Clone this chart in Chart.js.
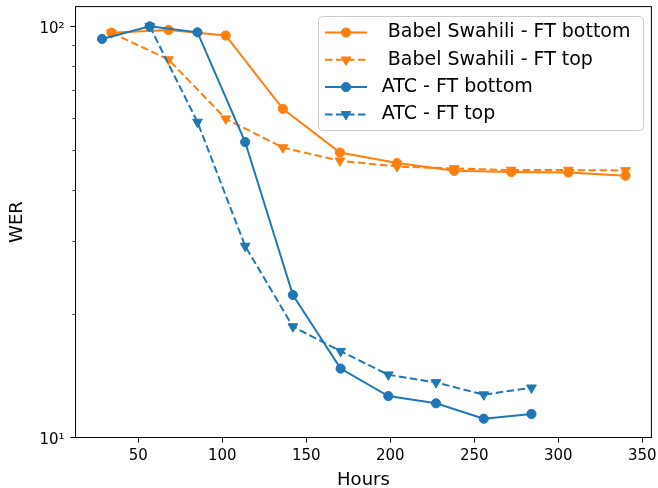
<!DOCTYPE html>
<html><head><meta charset="utf-8">
<script src="https://cdn.jsdelivr.net/npm/chart.js@4"></script>
<style>html,body{margin:0;padding:0;background:#fff;}canvas{display:block;}</style>
</head><body>
<canvas id="c" width="658" height="488"></canvas>
<script>
// ---- data ----
const hoursBabel = [34, 68, 102, 136, 170, 204, 238, 272, 306, 340];
const babelBottom = [96.5, 98, 95, 63, 49.3, 46.5, 44.5, 44.2, 44.1, 43.3];
const babelTop = [96.5, 83, 59.6, 50.7, 47.1, 45.6, 45.1, 44.7, 44.7, 44.6];
const hoursAtcBottom = [28.4, 56.8, 85.2, 113.6, 142, 170.4, 198.8, 227.2, 255.6, 284];
const atcBottom = [93.2, 100, 96.7, 52.3, 22.2, 14.7, 12.6, 12.1, 11.1, 11.4];
const hoursAtcTop = [56.8, 85.2, 113.6, 142, 170.4, 198.8, 227.2, 255.6, 284];
const atcTop = [100, 58.5, 29.2, 18.6, 16.2, 14.2, 13.6, 12.7, 13.2];
const seriesLabels = [' Babel Swahili - FT bottom', ' Babel Swahili - FT top', 'ATC - FT bottom', 'ATC - FT top'];
const xTicks = [50, 100, 150, 200, 250, 300, 350];
const yMajorTicks = [10, 100];
const yMinorTicks = [20, 30, 40, 50, 60, 70, 80, 90];
const yTickLabels = {10: '10\u00B9', 100: '10\u00B2'};
const xTitle = 'Hours';
const yTitle = 'WER';

const ORANGE = '#ff7f0e', BLUE = '#1f77b4';
const FONT = 'DejaVu Sans';
const DASH = [7.5, 3.5];
const CIRCLE_R = 4.6, TRI_R = 5.6;

function pts(xs, ys) { return xs.map((x, i) => ({x: x, y: ys[i]})); }

const styles = [
  {color: ORANGE, dash: [], marker: 'circle'},
  {color: ORANGE, dash: DASH, marker: 'triangle'},
  {color: BLUE, dash: [], marker: 'circle'},
  {color: BLUE, dash: DASH, marker: 'triangle'}
];
const seriesData = [
  pts(hoursBabel, babelBottom),
  pts(hoursBabel, babelTop),
  pts(hoursAtcBottom, atcBottom),
  pts(hoursAtcTop, atcTop)
];

const datasets = seriesData.map((d, i) => ({
  label: seriesLabels[i],
  data: d,
  borderColor: styles[i].color,
  backgroundColor: styles[i].color,
  borderWidth: 2,
  borderDash: styles[i].dash,
  pointStyle: styles[i].marker,
  pointRotation: styles[i].marker === 'triangle' ? 180 : 0,
  pointRadius: styles[i].marker === 'triangle' ? TRI_R : CIRCLE_R,
  pointBorderWidth: 1,
  pointBorderColor: styles[i].color,
  pointBackgroundColor: styles[i].color,
  tension: 0,
  fill: false,
  order: 4 - i
}));

function drawMarker(ctx, type, x, y, color) {
  ctx.save();
  ctx.setLineDash([]);
  ctx.fillStyle = color; ctx.strokeStyle = color; ctx.lineWidth = 1;
  ctx.beginPath();
  if (type === 'circle') {
    ctx.arc(x, y, CIRCLE_R, 0, Math.PI * 2);
  } else {
    const r = TRI_R;
    ctx.moveTo(x, y + r);
    ctx.lineTo(x - 0.866 * r, y - 0.5 * r);
    ctx.lineTo(x + 0.866 * r, y - 0.5 * r);
    ctx.closePath();
  }
  ctx.fill(); ctx.stroke();
  ctx.restore();
}

const decorPlugin = {
  id: 'decor',
  afterDraw(chart) {
    const {ctx, chartArea: a, scales} = chart;
    ctx.save();
    // minor y ticks
    ctx.strokeStyle = '#000'; ctx.lineWidth = 0.8;
    yMinorTicks.forEach(v => {
      const py = Math.round(scales.y.getPixelForValue(v)) + 0.5;
      ctx.beginPath(); ctx.moveTo(a.left - 3, py); ctx.lineTo(a.left, py); ctx.stroke();
    });
    // frame
    ctx.lineWidth = 1; ctx.strokeStyle = '#000';
    ctx.strokeRect(a.left, a.top, a.right - a.left, a.bottom - a.top);
    // legend
    const bx = 318.5, by = 16.5, bw = 325, bh = 114, rr = 4;
    ctx.beginPath();
    ctx.moveTo(bx + rr, by);
    ctx.arcTo(bx + bw, by, bx + bw, by + bh, rr);
    ctx.arcTo(bx + bw, by + bh, bx, by + bh, rr);
    ctx.arcTo(bx, by + bh, bx, by, rr);
    ctx.arcTo(bx, by, bx + bw, by, rr);
    ctx.closePath();
    ctx.fillStyle = 'rgba(255,255,255,0.8)';
    ctx.fill();
    ctx.strokeStyle = '#cccccc'; ctx.lineWidth = 1;
    ctx.stroke();
    ctx.font = '19px "' + FONT + '"';
    ctx.textBaseline = 'middle'; ctx.textAlign = 'left';
    seriesLabels.forEach((lab, i) => {
      const y = 32.5 + i * 27.3;
      const st = styles[i];
      ctx.strokeStyle = st.color; ctx.lineWidth = 2;
      ctx.setLineDash(st.dash);
      ctx.beginPath(); ctx.moveTo(325, y); ctx.lineTo(367, y); ctx.stroke();
      ctx.setLineDash([]);
      drawMarker(ctx, st.marker, 346, y, st.color);
      ctx.fillStyle = '#000';
      ctx.fillText(lab, 381.7, y);
    });
    ctx.restore();
  }
};

new Chart(document.getElementById('c'), {
  type: 'line',
  data: {datasets: datasets},
  plugins: [decorPlugin],
  options: {
    responsive: false,
    devicePixelRatio: 1,
    animation: false,
    layout: {padding: {left: 0, right: 4.5, top: 6.5, bottom: 0}},
    plugins: {legend: {display: false}, tooltip: {enabled: false}},
    scales: {
      x: {
        type: 'linear', min: 12.6, max: 355.4,
        afterBuildTicks: s => { s.ticks = xTicks.map(v => ({value: v})); },
        afterFit: s => { s.height = 50.5; s.paddingLeft = 0; s.paddingRight = 0; },
        grid: {drawOnChartArea: false, drawTicks: true, tickLength: 5, tickWidth: 1, tickColor: '#000'},
        border: {display: false},
        ticks: {color: '#000', font: {family: FONT, size: 15}, padding: 5, maxRotation: 0, autoSkip: false,
                callback: v => String(v)},
        title: {display: true, text: xTitle, color: '#000', font: {family: FONT, size: 18}, padding: {top: 0, bottom: -3}}
      },
      y: {
        type: 'logarithmic', min: 9.99, max: 111.7,
        afterBuildTicks: s => { s.ticks = yMajorTicks.map(v => ({value: v, major: true})); },
        afterFit: s => { s.width = 75.5; s.paddingTop = 0; s.paddingBottom = 0; },
        grid: {drawOnChartArea: false, drawTicks: true, tickLength: 5, tickWidth: 1, tickColor: '#000'},
        border: {display: false},
        ticks: {color: '#000', font: {family: FONT, size: 15}, padding: 6, labelOffset: 3, autoSkip: false,
                callback: v => (yTickLabels[v] !== undefined ? yTickLabels[v] : '')},
        title: {display: true, text: yTitle, color: '#000', font: {family: FONT, size: 18}, padding: {top: 7, bottom: 0}}
      }
    }
  }
});
</script>
</body></html>
